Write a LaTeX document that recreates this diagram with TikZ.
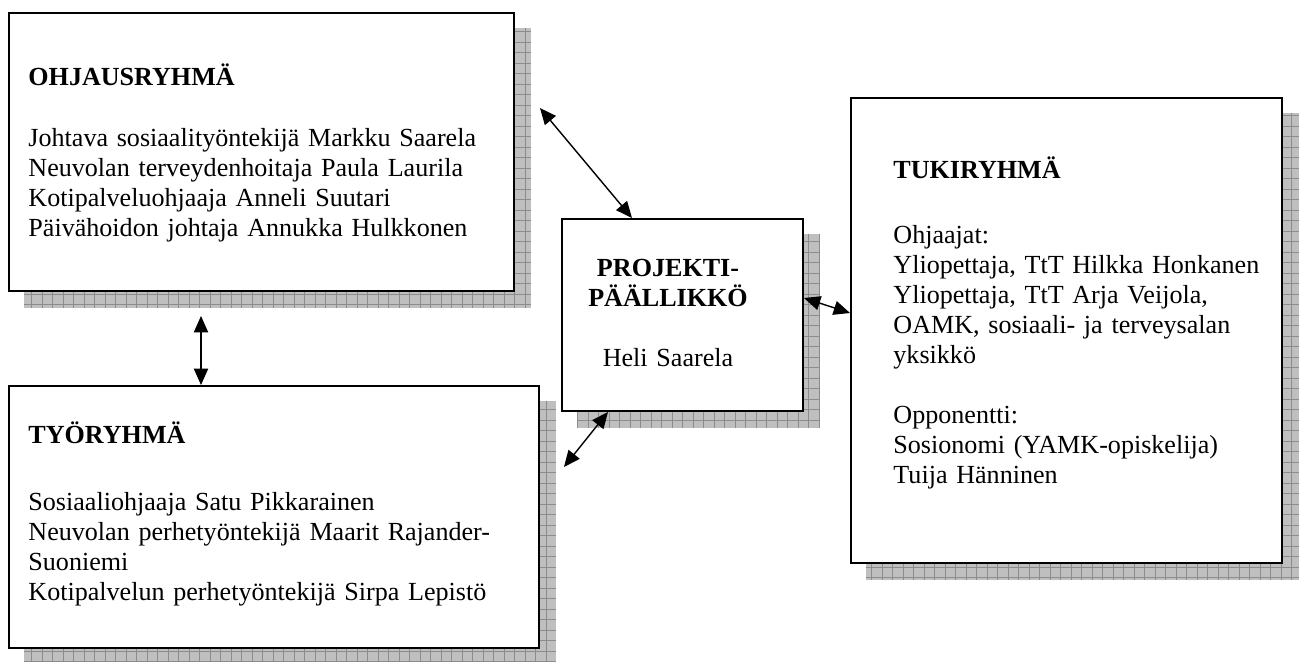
\documentclass[tikz,border=0pt]{standalone}
\usepackage{fontspec}
\setmainfont{Liberation Serif}
\usetikzlibrary{arrows.meta,backgrounds}
\newcommand{\pu}{0.46pt}
\tikzset{
  box/.style={draw, line width=0.9pt, fill=white, inner sep=0pt, anchor=north west},
  grouptitle/.style={anchor=base west, inner sep=0pt, font=\fontsize{12}{13.8}\selectfont\bfseries},
  members/.style={anchor=base west, inner sep=0pt, align=left, text width=260pt, font=\fontsize{12}{13.8}\selectfont},
  link/.style={line width=0.65pt, {Triangle[length=7.5pt,width=6.5pt]}-{Triangle[length=7.5pt,width=6.5pt]}},
  shadefill/.style={fill=black!25},
  shadegrid/.style={draw=black!45, line width=0.3pt},
}
\newcommand{\dropshade}[1]{%
  \begin{scope}
    \clip ([shift={(16,16)}]#1.north west) rectangle ([shift={(16,16)}]#1.south east);
    \fill[shadefill] ([shift={(16,16)}]#1.north west) rectangle ([shift={(16,16)}]#1.south east);
    \draw[shadegrid, step=4.83pt] ([shift={(16,16)}]#1.north west) grid ([shift={(16,16)}]#1.south east);
  \end{scope}}
\begin{document}
\begin{tikzpicture}[x=\pu, y=-\pu]
            \useasboundingbox (0,0) rectangle (1301,661);

            \node (ohjaus) [box, minimum width=505*\pu, minimum height=278*\pu] at (8,12) {};
            \node (proj) [box, minimum width=241*\pu, minimum height=192*\pu] at (561,218) {};
            \node (tuki) [box, minimum width=431*\pu, minimum height=465*\pu] at (850,97) {};
            \node (tyo) [box, minimum width=530*\pu, minimum height=262*\pu] at (8,385) {};

            \begin{scope}[on background layer]
                \dropshade{ohjaus}
                \dropshade{proj}
                \dropshade{tuki}
                \dropshade{tyo}
            \end{scope}

            \node (ohjausTitle) [grouptitle] at (28,85) {OHJAUSRYHMÄ};
            \node (ohjausNames) [members] at (28,146) {Johtava sosiaalityöntekijä Markku Saarela\\
                Neuvolan terveydenhoitaja Paula Laurila\\
                Kotipalveluohjaaja Anneli Suutari\\
                Päivähoidon johtaja Annukka Hulkkonen};

            \node (projText) [anchor=base, inner sep=0pt, align=center, text width=120pt,
                font=\fontsize{12}{13.8}\selectfont] at (668,276)
                {\textbf{PROJEKTI-}\\\textbf{PÄÄLLIKKÖ}\\[13.8pt]Heli Saarela};

            \node (tukiTitle) [grouptitle] at (893,178) {TUKIRYHMÄ};
            \node (tukiNames) [members] at (893,243) {Ohjaajat:\\
                Yliopettaja, TtT Hilkka Honkanen\\
                Yliopettaja, TtT Arja Veijola,\\
                OAMK, sosiaali- ja terveysalan\\
                yksikkö\\[13.8pt]
                Opponentti:\\
                Sosionomi (YAMK-opiskelija)\\
                Tuija Hänninen};

            \node (tyoTitle) [grouptitle] at (28,443) {TYÖRYHMÄ};
            \node (tyoNames) [members] at (28,510) {Sosiaaliohjaaja Satu Pikkarainen\\
                Neuvolan perhetyöntekijä Maarit Rajander-\\
                Suoniemi\\
                Kotipalvelun perhetyöntekijä Sirpa Lepistö};

            \draw[link] ([shift={(193,24)}]ohjaus.south west) -- ([shift={(193,0)}]tyo.north west);
            \draw[link] ([shift={(25,96)}]ohjaus.north east) -- ([shift={(71,0)}]proj.north west);
            \draw[link] ([shift={(0,80)}]proj.north east) -- ([shift={(0,216)}]tuki.north west);
            \draw[link] ([shift={(47,0)}]proj.south west) -- ([shift={(24,82)}]tyo.north east);
\end{tikzpicture}
\end{document}
